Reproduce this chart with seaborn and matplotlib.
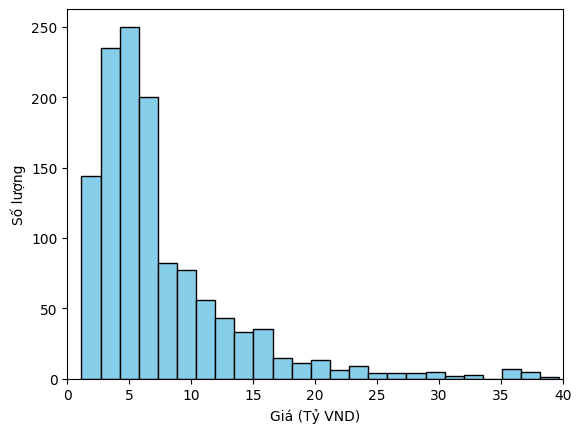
import numpy as np
import pandas as pd
import matplotlib.pyplot as plt
import seaborn as sns

# Histogram giá nhà
bin_start = 1.15
bin_end = 39.7
n_bins = 25
counts = [144, 235, 250, 200, 82, 77, 56, 43, 33, 35, 15, 11, 13,
          6, 9, 4, 4, 4, 5, 2, 3, 0, 7, 5, 1]

edges = np.linspace(bin_start, bin_end, n_bins + 1)
centers = (edges[:-1] + edges[1:]) / 2
df = pd.DataFrame({'gia': centers, 'so_luong': counts})

fig, ax = plt.subplots(figsize=(6.4, 4.8), dpi=100)
sns.histplot(data=df, x='gia', weights='so_luong', bins=n_bins,
             binrange=(bin_start, bin_end), color='skyblue',
             edgecolor='black', alpha=1, ax=ax)
ax.set_xlim(0, 40)
ax.set_xlabel('Giá (Tỷ VND)')
ax.set_ylabel('Số lượng')
fig.savefig('out.png', bbox_inches='tight')
